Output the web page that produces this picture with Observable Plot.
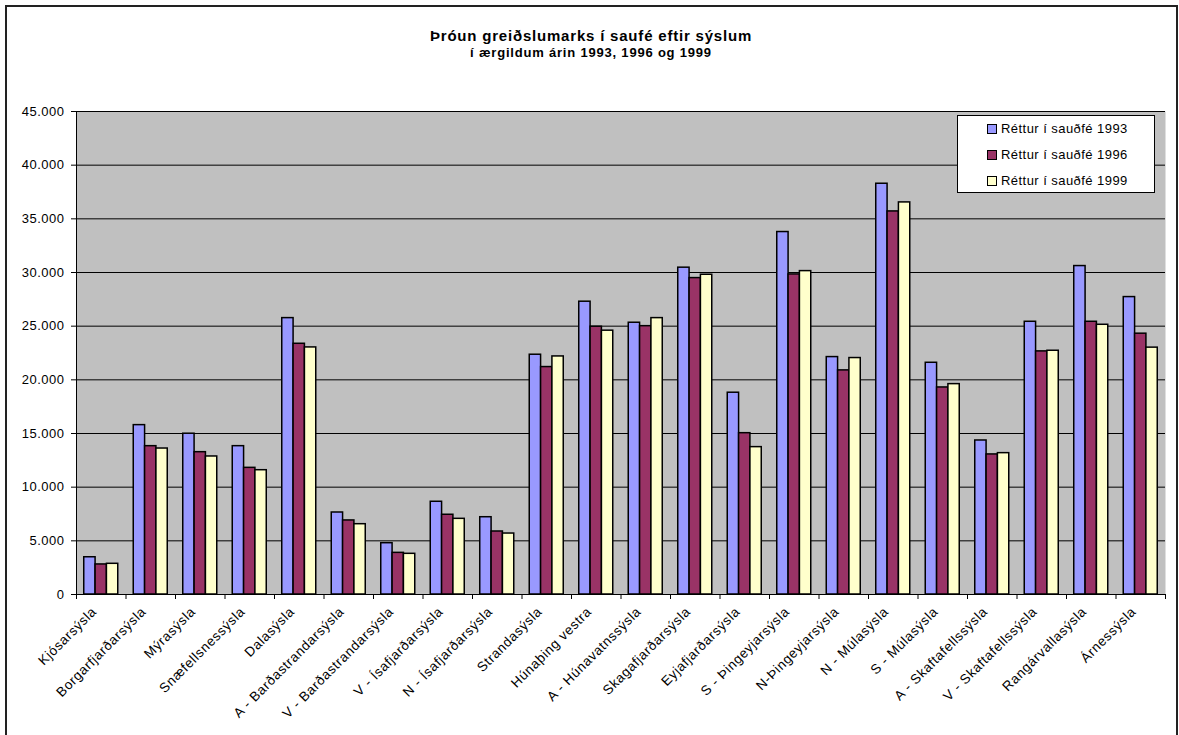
<!DOCTYPE html>
<html><head><meta charset="utf-8">
<script src="https://cdn.jsdelivr.net/npm/d3@7"></script>
<script src="https://cdn.jsdelivr.net/npm/@observablehq/plot@0.6"></script>
<style>
body{margin:0;background:#fff;font-family:"Liberation Sans",Arial,sans-serif;}
#wrap{position:relative;width:1179px;height:735px;overflow:hidden;background:#fff;}
#border{position:absolute;left:5px;top:5px;width:1169px;height:740px;border:2px solid #222;}
.t{position:absolute;left:0;width:1182px;text-align:center;font-weight:bold;color:#000;white-space:nowrap;}
#title{top:27px;font-size:15px;line-height:18px;letter-spacing:0.8px;}
#subtitle{top:45px;font-size:13px;line-height:16px;letter-spacing:0.8px;}
#chart{position:absolute;left:0;top:0;}
#legend{position:absolute;left:957px;top:115px;width:198px;height:78px;box-sizing:border-box;border:1px solid #000;background:#fff;}
.row{position:absolute;left:0;height:16px;font-size:13px;line-height:16px;letter-spacing:0.45px;color:#000;white-space:nowrap;}
.sw{position:absolute;left:29px;top:3px;width:8px;height:8px;border:1px solid #000;}
.lb{position:absolute;left:43px;top:0;}
</style>
</head><body>
<div id="wrap">
  <div id="border"></div>
  <div id="chart"></div>
  <div class="t" id="title">Þróun greiðslumarks í saufé eftir sýslum</div>
  <div class="t" id="subtitle">í ærgildum árin 1993, 1996 og 1999</div>
  <div id="legend"></div>
</div>
<script>
const categories = ["Kjósarsýsla","Borgarfjarðarsýsla","Mýrasýsla","Snæfellsnessýsla","Dalasýsla","A - Barðastrandarsýsla","V - Barðastrandarsýsla","V - Ísafjarðarsýsla","N - Ísafjarðarsýsla","Strandasýsla","Húnaþing vestra","A - Húnavatnssýsla","Skagafjarðarsýsla","Eyjafjarðarsýsla","S - Þingeyjarsýsla","N-Þingeyjarsýsla","N - Múlasýsla","S - Múlasýsla","A - Skaftafellssýsla","V - Skaftafellssýsla","Rangárvallasýsla","Árnessýsla"];
const seriesNames = ["Réttur í sauðfé 1993","Réttur í sauðfé 1996","Réttur í sauðfé 1999"];
const v1993 = [3470,15780,14980,13820,25750,7640,4780,8640,7200,22340,27280,25320,30450,18800,33770,22120,38270,21590,14350,25410,30600,27710];
const v1996 = [2800,13820,13260,11800,23360,6900,3880,7430,5870,21190,24950,25000,29480,15030,29820,20880,35690,19290,13050,22650,25410,24300];
const v1999 = [2860,13600,12860,11580,23020,6550,3790,7050,5680,22180,24580,25750,29790,13730,30130,22030,36530,19600,13170,22710,25130,23000];
const yTicks = [0,5000,10000,15000,20000,25000,30000,35000,40000,45000];
const colors = ["#9999FF","#993366","#FFFFCC"];

const seriesValues = [v1993, v1996, v1999];
const barW = 0.229; // fraction of a category slot per bar
const data = [];
categories.forEach((c, i) => {
  seriesValues.forEach((vals, k) => {
    const x1 = i + 0.5 + (k - 1.5) * barW;
    data.push({cat: c, i, series: seriesNames[k], value: vals[i], x1, x2: x1 + barW});
  });
});

const loc = d3.formatLocale({decimal: ",", thousands: ".", grouping: [3], currency: ["", ""]});
const fmt = loc.format(",d");
const centers = categories.map((c, i) => i + 0.5);
const bounds = d3.range(0, categories.length + 1);

const chart = Plot.plot({
  width: 1179,
  height: 735,
  marginLeft: 76,
  marginRight: 14,
  marginTop: 111,
  marginBottom: 141,
  style: {fontFamily: "'Liberation Sans', Arial, sans-serif", fontSize: "13px", background: "transparent", color: "#000", overflow: "visible"},
  x: {type: "linear", domain: [0, categories.length], label: null},
  y: {domain: [0, 45000], label: null},
  color: {domain: seriesNames, range: colors},
  marks: [
    Plot.frame({fill: "#c0c0c0", stroke: null}),
    Plot.gridY(yTicks, {stroke: "#000", strokeOpacity: 1, strokeWidth: 1}),
    Plot.rect(data, {x1: "x1", x2: "x2", y1: 0, y2: "value", fill: "series", stroke: "#000", strokeWidth: 1.5}),
    Plot.ruleX([0], {stroke: "#000"}),
    Plot.ruleY([0], {stroke: "#000"}),
    Plot.axisY({ticks: yTicks, tickFormat: fmt, tickSize: 5, tickPadding: 7, stroke: "#000", fill: "#000", fontSize: 13}),
    Plot.axisX({ticks: bounds, tickFormat: () => "", tickSize: 5, stroke: "#000"}),
    Plot.axisX({ticks: centers, tickFormat: d => categories[Math.round(d - 0.5)], tickSize: 0, tickPadding: 15, dx: -7, tickRotate: -45, fill: "#000", fontSize: 13.5})
  ]
});
chart.querySelectorAll("g[aria-label='x-axis tick label'] text").forEach(t => t.style.letterSpacing = "0.6px");
chart.querySelectorAll("g[aria-label='y-axis tick label'] text").forEach(t => t.style.letterSpacing = "0.5px");
document.getElementById("chart").appendChild(chart);

const legend = d3.select("#legend");
const rowTops = [5, 31, 57];
seriesNames.forEach((s, k) => {
  const row = legend.append("div").attr("class", "row").style("top", rowTops[k] + "px");
  row.append("div").attr("class", "sw").style("background", colors[k]);
  row.append("div").attr("class", "lb").text(s);
});
</script>
</body></html>
